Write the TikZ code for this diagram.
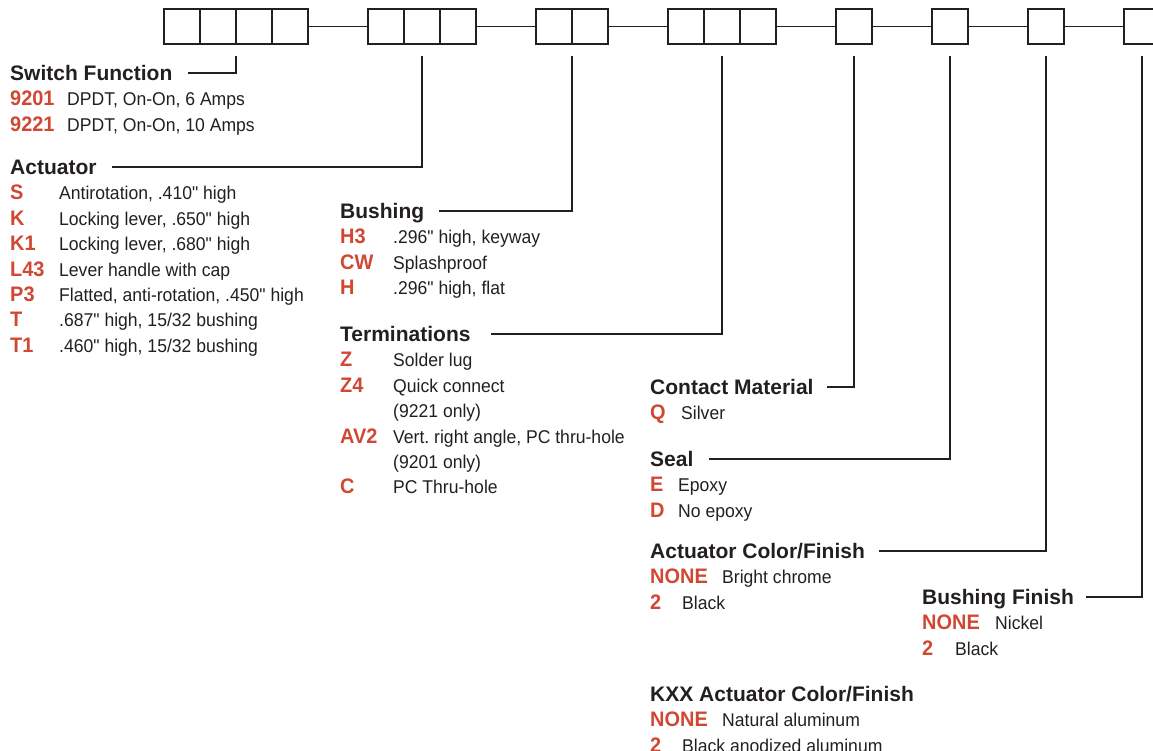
\documentclass[tikz,border=0pt]{standalone}
\usepackage{fontspec}
\setmainfont{Liberation Sans}
\newfontfamily\condfont[FakeStretch=0.95,Ligatures=TeXOff]{Liberation Sans}
\usetikzlibrary{positioning}
\definecolor{codered}{RGB}{208,72,52}
\definecolor{inkgray}{RGB}{35,31,32}
\newcommand{\code}[2]{\makebox[#1][l]{\fontsize{21}{25}\selectfont\bfseries\color{codered}#2}}
\frenchspacing

\begin{document}
\begin{tikzpicture}[
    x=1pt, y=-1pt,
    cell/.style={draw=inkgray, line width=1.4pt, minimum width=36pt, minimum height=35pt, inner sep=0pt, outer sep=0pt},
    link/.style={draw=inkgray, line width=1.4pt},
    leader/.style={draw=inkgray, line width=1.1pt},
    head/.style={anchor=west, inner sep=0pt, text height=15pt, text depth=0pt, text=inkgray, font=\fontsize{21}{25}\selectfont\bfseries},
    item/.style={anchor=north west, inner sep=0pt, text height=25pt, text depth=0pt, text=inkgray, font=\condfont\fontsize{18.5}{25}\selectfont},
]
    \useasboundingbox (0,0) rectangle (1153,751);

    % Code boxes
    \node [cell] (sw1) at (182,26.5) {};
    \node [cell, right=0pt of sw1] (sw2) {};
    \node [cell, right=0pt of sw2] (sw3) {};
    \node [cell, right=0pt of sw3] (sw4) {};
    \node [cell, right=60pt of sw4] (ac1) {};
    \node [cell, right=0pt of ac1] (ac2) {};
    \node [cell, right=0pt of ac2] (ac3) {};
    \node [cell, right=60pt of ac3] (bu1) {};
    \node [cell, right=0pt of bu1] (bu2) {};
    \node [cell, right=60pt of bu2] (te1) {};
    \node [cell, right=0pt of te1] (te2) {};
    \node [cell, right=0pt of te2] (te3) {};
    \node [cell, right=60pt of te3] (cm) {};
    \node [cell, right=60pt of cm] (se) {};
    \node [cell, right=60pt of se] (cf) {};
    \node [cell, right=60pt of cf] (bf) {};

    \draw [link] (sw4) -- (ac1);
    \draw [link] (ac3) -- (bu1);
    \draw [link] (bu2) -- (te1);
    \draw [link] (te3) -- (cm);
    \draw [link] (cm) -- (se);
    \draw [link] (se) -- (cf);
    \draw [link] (cf) -- (bf);

    % Switch function
    \node [head] (swt) at (10,73) {Switch Function};
    \node [item] (swa) at (swt.south west) {\code{57pt}{9201}DPDT, On-On, 6 Amps};
    \node [item] (swb) at (swa.south west) {\code{57pt}{9221}DPDT, On-On, 10 Amps};

    % Actuator
    \node [head] (act) at (10,167) {Actuator};
    \node [item] (aca) at (act.south west) {\code{49pt}{S}Antirotation, .410" high};
    \node [item] (acb) at (aca.south west) {\code{49pt}{K}Locking lever, .650" high};
    \node [item] (acc) at (acb.south west) {\code{49pt}{K1}Locking lever, .680" high};
    \node [item] (acd) at (acc.south west) {\code{49pt}{L43}Lever handle with cap};
    \node [item] (ace) at (acd.south west) {\code{49pt}{P3}Flatted, anti-rotation, .450" high};
    \node [item] (acf) at (ace.south west) {\code{49pt}{T}.687" high, 15/32 bushing};
    \node [item] (acg) at (acf.south west) {\code{49pt}{T1}.460" high, 15/32 bushing};

    % Bushing
    \node [head] (but) at (340,211) {Bushing};
    \node [item] (bua) at (but.south west) {\code{53pt}{H3}.296" high, keyway};
    \node [item] (bub) at (bua.south west) {\code{53pt}{CW}Splashproof};
    \node [item] (buc) at (bub.south west) {\code{53pt}{H}.296" high, flat};

    % Terminations
    \node [head] (tet) at (340,334) {Terminations};
    \node [item] (tea) at (tet.south west) {\code{53pt}{Z}Solder lug};
    \node [item] (teb) at (tea.south west) {\code{53pt}{Z4}Quick connect};
    \node [item] (tec) at (teb.south west) {\code{53pt}{}(9221 only)};
    \node [item] (ted) at (tec.south west) {\code{53pt}{AV2}Vert. right angle, PC thru-hole};
    \node [item] (tee) at (ted.south west) {\code{53pt}{}(9201 only)};
    \node [item] (tef) at (tee.south west) {\code{53pt}{C}PC Thru-hole};

    % Contact material
    \node [head] (cmt) at (650,387) {Contact Material};
    \node [item] (cma) at (cmt.south west) {\code{31pt}{Q}Silver};

    % Seal
    \node [head] (set) at (650,459) {Seal};
    \node [item] (sea) at (set.south west) {\code{28pt}{E}Epoxy};
    \node [item] (seb) at (sea.south west) {\code{28pt}{D}No epoxy};

    % Actuator color / finish
    \node [head] (cft) at (650,551) {Actuator Color/Finish};
    \node [item] (cfa) at (cft.south west) {\code{72pt}{NONE}Bright chrome};
    \node [item] (cfb) at (cfa.south west) {\code{32pt}{2}Black};

    % Bushing finish
    \node [head] (bft) at (922,597) {Bushing Finish};
    \node [item] (bfa) at (bft.south west) {\code{73pt}{NONE}Nickel};
    \node [item] (bfb) at (bfa.south west) {\code{33pt}{2}Black};

    % KXX actuator color / finish
    \node [head] (kxt) at (650,694) {KXX Actuator Color/Finish};
    \node [item] (kxa) at (kxt.south west) {\code{72pt}{NONE}Natural aluminum};
    \node [item] (kxb) at (kxa.south west) {\code{32pt}{2}Black anodized aluminum};

    % Leaders
    \coordinate (swl) at ([yshift=-12pt]sw2.south east);
    \coordinate (acl) at ([yshift=-12pt]ac2.south);
    \coordinate (bul) at ([yshift=-12pt]bu1.south east);
    \coordinate (tel) at ([yshift=-12pt]te2.south);
    \coordinate (cml) at ([yshift=-12pt]cm.south);
    \coordinate (sel) at ([yshift=-12pt]se.south);
    \coordinate (cfl) at ([yshift=-12pt]cf.south);
    \coordinate (bfl) at ([yshift=-12pt]bf.south);

    \draw [leader] (swl) |- ([xshift=15pt]swt.east);
    \draw [leader] (acl) |- ([xshift=15pt]act.east);
    \draw [leader] (bul) |- ([xshift=15pt]but.east);
    \draw [leader] (tel) |- ([xshift=20pt]tet.east);
    \draw [leader] (cml) |- ([xshift=13pt]cmt.east);
    \draw [leader] (sel) |- ([xshift=15pt]set.east);
    \draw [leader] (cfl) |- ([xshift=14pt]cft.east);
    \draw [leader] (bfl) |- ([xshift=12pt]bft.east);

\end{tikzpicture}
\end{document}
